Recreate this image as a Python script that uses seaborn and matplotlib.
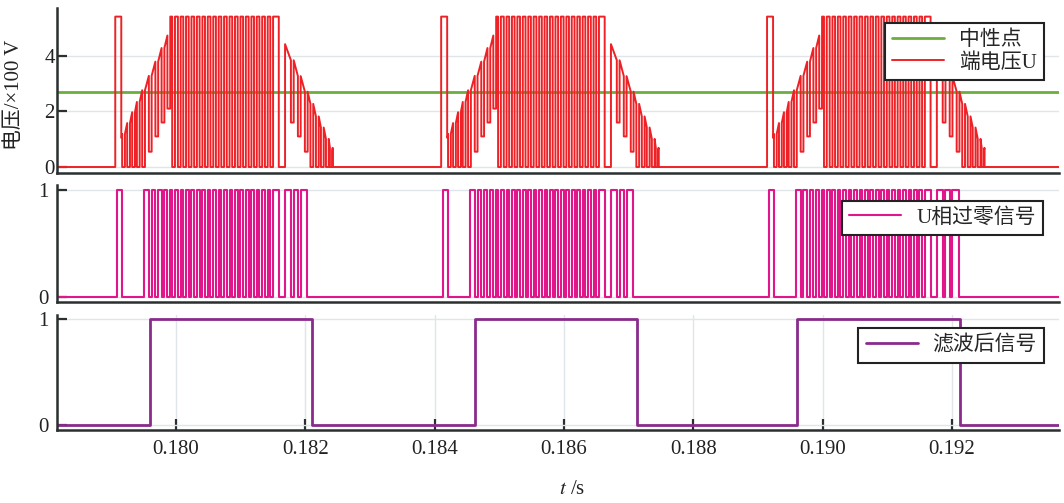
import matplotlib
matplotlib.use('Agg')
import matplotlib.pyplot as plt
import seaborn as sns
import pandas as pd

# ---------------- data ----------------
T_MIN, T_MAX = 0.178159, 0.193655
X_TICKS = [0.180, 0.182, 0.184, 0.186, 0.188, 0.190, 0.192]

# start time (first narrow pulse) of each commutation cycle, s
CYCLE_T0 = [0.17906, 0.18410, 0.18914]

NEUTRAL_V = 2.7          # 中性点, x100 V
V_HIGH = 5.41            # bus level, x100 V

# terminal voltage pattern, offsets in ms from the cycle start
FIRST_PULSE = [0.0, 0.093]
RAMP_UP_START = (0.1005, 1.05)
RAMP_UP_NOTCH_T = [0.128, 0.206, 0.283, 0.356, 0.438, 0.541, 0.642, 0.738, 0.828]
RAMP_UP_NOTCH_V = [1.19, 1.58, 1.97, 2.34, 2.76, 3.28, 3.79, 4.28, 4.73]
RAMP_UP_NOTCH_DEPTH = [0, 0, 0, 0, 0, 0.55, 1.1, 1.6, 2.1]
RAMP_UP_END = (0.851, 4.85)
PLATEAU_NOTCH_T = [0.902, 0.990, 1.073, 1.157, 1.241, 1.326, 1.409, 1.494,
                   1.578, 1.661, 1.746, 1.830, 1.915, 1.998, 2.084, 2.167,
                   2.251, 2.336, 2.419]
PLATEAU_END = 2.529
RAMP_DN_START = (2.626, 4.42)
RAMP_DN_NOTCH_T = [2.738, 2.846, 2.954, 3.040, 3.125, 3.202, 3.280, 3.341]
RAMP_DN_NOTCH_V = [3.84, 3.27, 2.71, 2.27, 1.82, 1.42, 1.01, 0.69]
RAMP_DN_NOTCH_DEPTH = [1.6, 1.1, 0.55, 0, 0, 0, 0, 0]
RAMP_DN_END = (3.357, 0.61)
NOTCH_W = 0.043          # ms

# U-phase zero-crossing signal pattern, offsets in ms from the cycle start
ZC_FIRST_PULSE = [0.025, 0.103]
ZC_MAIN = [0.441, 2.529]
ZC_MAIN_NOTCH_T = [0.541, 0.642, 0.738, 0.828,
                   0.902, 0.990, 1.073, 1.157, 1.241, 1.326, 1.409, 1.494,
                   1.578, 1.661, 1.746, 1.830, 1.915, 1.998, 2.084, 2.167,
                   2.251, 2.336, 2.419]
ZC_TAIL = [2.630, 2.962]
ZC_TAIL_NOTCH_T = [2.738, 2.846]

# filtered signal edges, s
FILT_RISE = [0.17960, 0.18462, 0.18960]
FILT_FALL = [0.18211, 0.18713, 0.19212]

LABELS = ['中性点', '端电压U', 'U相过零信号', '滤波后信号']
Y_LABEL = '电压/×100 V'

# ---------------- build step waveforms ----------------
def terminal_wave():
    t, v = [T_MIN], [0.0]
    h = NOTCH_W / 2
    for t0 in CYCLE_T0:
        def add(ms, val):
            t.append(t0 + ms / 1000.0)
            v.append(val)
        add(FIRST_PULSE[0], 0); add(FIRST_PULSE[0], V_HIGH)
        add(FIRST_PULSE[1], V_HIGH); add(FIRST_PULSE[1], RAMP_UP_START[1])
        add(*RAMP_UP_START)
        for n, r, d in zip(RAMP_UP_NOTCH_T, RAMP_UP_NOTCH_V, RAMP_UP_NOTCH_DEPTH):
            add(n - h, r); add(n - h, d); add(n + h, d); add(n + h, r)
        add(*RAMP_UP_END); add(RAMP_UP_END[0], V_HIGH)
        for n in PLATEAU_NOTCH_T:
            add(n - h, V_HIGH); add(n - h, 0); add(n + h, 0); add(n + h, V_HIGH)
        add(PLATEAU_END, V_HIGH); add(PLATEAU_END, 0)
        add(RAMP_DN_START[0], 0); add(*RAMP_DN_START)
        for n, r, d in zip(RAMP_DN_NOTCH_T, RAMP_DN_NOTCH_V, RAMP_DN_NOTCH_DEPTH):
            add(n - h, r); add(n - h, d); add(n + h, d); add(n + h, r)
        add(*RAMP_DN_END); add(RAMP_DN_END[0], 0)
    t.append(T_MAX); v.append(0.0)
    return t, v


def zc_wave():
    t, v = [T_MIN], [0.0]
    h = NOTCH_W / 2
    for t0 in CYCLE_T0:
        def add(ms, val):
            t.append(t0 + ms / 1000.0)
            v.append(val)
        add(ZC_FIRST_PULSE[0], 0); add(ZC_FIRST_PULSE[0], 1)
        add(ZC_FIRST_PULSE[1], 1); add(ZC_FIRST_PULSE[1], 0)
        for (a, b), notches in ((ZC_MAIN, ZC_MAIN_NOTCH_T), (ZC_TAIL, ZC_TAIL_NOTCH_T)):
            add(a, 0); add(a, 1)
            for n in notches:
                add(n - h, 1); add(n - h, 0); add(n + h, 0); add(n + h, 1)
            add(b, 1); add(b, 0)
    t.append(T_MAX); v.append(0.0)
    return t, v


def filt_wave():
    t, v = [T_MIN], [0.0]
    for r, f in zip(FILT_RISE, FILT_FALL):
        t += [r, r, f, f]
        v += [0, 1, 1, 0]
    t.append(T_MAX); v.append(0.0)
    return t, v


# ---------------- plotting ----------------
sns.set_theme(style='white')
plt.rcParams['font.family'] = ['Liberation Serif', 'Noto Sans CJK SC']
plt.rcParams['axes.unicode_minus'] = False
plt.rcParams['mathtext.fontset'] = 'stix'

W, H = 1064, 503
fig = plt.figure(figsize=(W / 100, H / 100), dpi=100)

def add_axes(top_px, bottom_px):
    return fig.add_axes([57 / W, 1 - bottom_px / H, (1059 - 57) / W, (bottom_px - top_px) / H])

ax1 = add_axes(8, 173)
ax2 = add_axes(185, 301.7)
ax3 = add_axes(315, 430)

RED = '#ee2226'
GREEN = '#6aae3e'
MAGENTA = '#e2168b'
PURPLE = '#8a2b8c'
SPINE = '#2b2f30'
GRID = '#dfe6ea'

line_kw = dict(sort=False, estimator=None, solid_joinstyle='round')

tt, vv = terminal_wave()
sns.lineplot(x=[T_MIN, T_MAX], y=[NEUTRAL_V, NEUTRAL_V], ax=ax1, color=GREEN,
             lw=2.0, label=LABELS[0], **line_kw)
sns.lineplot(x=tt, y=vv, ax=ax1, color=RED, lw=1.4, label=LABELS[1], **line_kw)

zt, zv = zc_wave()
sns.lineplot(x=zt, y=zv, ax=ax2, color=MAGENTA, lw=1.5, label=LABELS[2], **line_kw)

ft, fv = filt_wave()
sns.lineplot(x=ft, y=fv, ax=ax3, color=PURPLE, lw=2.0, label=LABELS[3], **line_kw)

ylims = [(-0.216, 5.72), (-0.047, 1.047), (-0.047, 1.038)]
yticks = [[0, 2, 4], [0, 1], [0, 1]]
ypads = [1.5, 6.0, 6.0]
for ax, yl, yt, yp in zip((ax1, ax2, ax3), ylims, yticks, ypads):
    ax.set_xlim(T_MIN, T_MAX)
    ax.set_ylim(*yl)
    ax.set_yticks(yt)
    ax.set_yticklabels([str(x) for x in yt])
    ax.set_xlabel('')
    ax.set_ylabel('')
    ax.set_facecolor('white')
    for s in ('top', 'right'):
        ax.spines[s].set_visible(False)
    for s in ('left', 'bottom'):
        ax.spines[s].set_color(SPINE)
        ax.spines[s].set_linewidth(1.8)
    ax.tick_params(axis='y', direction='in', length=7, width=1.6, color=SPINE,
                   labelsize=15, pad=yp, left=True, labelcolor='#222222')
    ax.yaxis.grid(True, color=GRID, lw=1.0)
    ax.set_axisbelow(True)

for ax in (ax1, ax2):
    ax.set_xticks(X_TICKS)
    ax.tick_params(axis='x', bottom=False, labelbottom=False)

ax3.set_xticks(X_TICKS)
ax3.set_xticklabels([f'{x:.3f}' for x in X_TICKS])
ax3.tick_params(axis='x', direction='in', length=8, width=1.6, color=SPINE,
                labelsize=15, pad=7, bottom=True, labelcolor='#222222')
ax3.xaxis.grid(True, color=GRID, lw=1.0)

leg_kw = dict(frameon=True, fancybox=False, framealpha=1, edgecolor='#222222',
              fontsize=15, handlelength=2.5, handletextpad=0.7,
              borderpad=0.35, borderaxespad=0, labelspacing=0.15, loc='upper right')
l1 = ax1.legend(bbox_to_anchor=(0.985, 0.909), **leg_kw)
l2 = ax2.legend(bbox_to_anchor=(0.984, 0.865), **leg_kw)
l3 = ax3.legend(bbox_to_anchor=(0.985, 0.887), **leg_kw)
for lg in (l1, l2, l3):
    lg.get_frame().set_linewidth(1.5)
    lg.set_zorder(10)

fig.text(15 / W, 1 - 95 / H, Y_LABEL, rotation=90, ha='center', va='center',
         fontsize=15, color='#222222')
fig.text(572 / W, 1 - 490 / H, '$t$ /s', ha='center', va='center',
         fontsize=15, color='#222222')

fig.savefig('out.png', dpi=100, facecolor='white')
